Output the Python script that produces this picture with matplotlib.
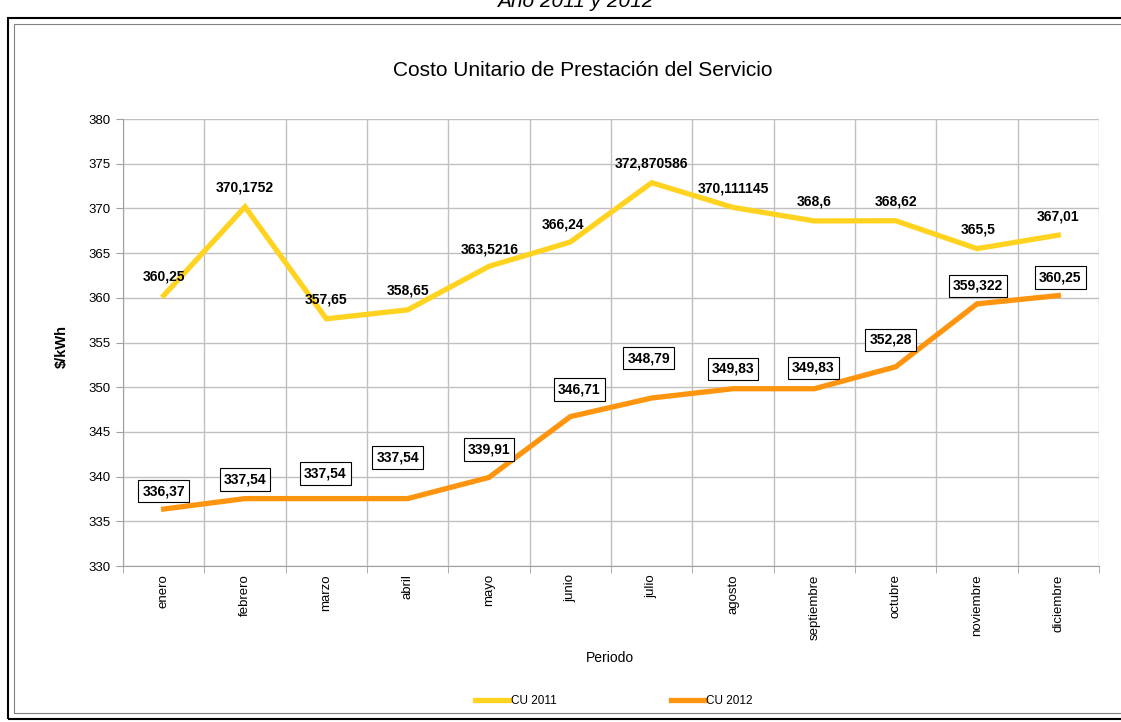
import matplotlib
matplotlib.use("Agg")
from matplotlib import pyplot as plt
from matplotlib.patches import Rectangle
import numpy as np

plt.rcParams['font.family'] = ['Liberation Sans', 'DejaVu Sans']

meses = ['enero', 'febrero', 'marzo', 'abril', 'mayo', 'junio', 'julio',
         'agosto', 'septiembre', 'octubre', 'noviembre', 'diciembre']
cu_2011 = [360.25, 370.1752, 357.65, 358.65, 363.5216, 366.24, 372.870586,
           370.111145, 368.6, 368.62, 365.5, 367.01]
cu_2012 = [336.37, 337.54, 337.54, 337.54, 339.91, 346.71, 348.79,
           349.83, 349.83, 352.28, 359.322, 360.25]
etiq_2011 = ['360,25', '370,1752', '357,65', '358,65', '363,5216', '366,24',
             '372,870586', '370,111145', '368,6', '368,62', '365,5', '367,01']
etiq_2012 = ['336,37', '337,54', '337,54', '337,54', '339,91', '346,71',
             '348,79', '349,83', '349,83', '352,28', '359,322', '360,25']

# desplazamiento de cada etiqueta en pixeles (x, y hacia arriba)
desp_2011 = [(0, 19), (0, 19), (0, 19), (0, 19), (1, 17), (-7, 18),
             (0, 19), (0, 19), (0, 19), (0, 19), (1, 19), (0, 19)]
desp_2012 = [(0, 18), (0, 19), (-1, 25), (-10, 41), (0, 28), (9, 27),
             (-3, 40), (0, 20), (-1, 21), (-5, 27), (1, 18), (2, 18)]

W, H = 1121, 722
fig = plt.figure(figsize=(W / 100, H / 100), dpi=100)

# marcos exteriores
fig.patches.append(Rectangle((8 / W, 3 / H), 1.2, 1 - 21 / H, transform=fig.transFigure,
                             fill=False, ec='black', lw=1.5, zorder=0))
fig.patches.append(Rectangle((14 / W, 9 / H), 1.2, 1 - 33 / H, transform=fig.transFigure,
                             fill=False, ec='#808080', lw=0.8, zorder=0))

fig.text(575 / W, 1 - 7 / H, 'Año 2011 y 2012', ha='center', va='baseline',
         fontsize=15, style='italic')

ax = fig.add_axes([123 / W, 1 - 566 / H, (1099 - 123) / W, (566 - 119) / H])
x = np.arange(len(meses))

ax.plot(x, cu_2011, color='#FFD320', lw=3.8, label='CU 2011', solid_joinstyle='miter', zorder=3)
ax.plot(x, cu_2012, color='#FF950E', lw=3.8, label='CU 2012', solid_joinstyle='miter', zorder=3)

for i in range(len(meses)):
    ax.annotate(etiq_2011[i], (x[i], cu_2011[i]), xytext=desp_2011[i],
                textcoords='offset pixels', ha='center', va='center',
                fontsize=10, fontweight='bold', zorder=5)
    ax.annotate(etiq_2012[i], (x[i], cu_2012[i]), xytext=desp_2012[i],
                textcoords='offset pixels', ha='center', va='center',
                fontsize=10, fontweight='bold', zorder=5,
                bbox=dict(boxstyle='square,pad=0.3', fc='white', ec='black', lw=0.8))

ax.set_xlim(-0.5, len(meses) - 0.5)
ax.set_ylim(330, 380)
ax.set_yticks(np.arange(330, 381, 5))
ax.set_xticks(x)
ax.set_xticklabels(meses, rotation=90, fontsize=9.5)
ax.set_xticks(np.arange(-0.5, len(meses), 1), minor=True)
ax.tick_params(axis='x', which='major', length=0, pad=6)
ax.tick_params(axis='x', which='minor', length=5, color='#a0a0a0')
ax.tick_params(axis='y', labelsize=9.5, length=5, color='#a0a0a0', pad=4)
ax.grid(True, axis='y', color='#c0c0c0', lw=1)
ax.grid(True, axis='x', which='minor', color='#c0c0c0', lw=1)
ax.set_axisbelow(True)
for lado in ['top', 'right']:
    ax.spines[lado].set_visible(False)
for lado in ['left', 'bottom']:
    ax.spines[lado].set_color('#a0a0a0')

fig.text(583 / W, 1 - 70 / H, 'Costo Unitario de Prestación del Servicio',
         ha='center', va='center', fontsize=15)
fig.text(62 / W, 1 - 347 / H, '$/kWh', ha='center', va='center', rotation=90,
         fontsize=10.5, fontweight='bold')
fig.text(610 / W, 1 - 658 / H, 'Periodo', ha='center', va='center', fontsize=10)

fig.legend(loc='center', bbox_to_anchor=(614 / W, 1 - 701 / H), ncol=2, frameon=False,
           fontsize=8.5, handlelength=2.9, handletextpad=0.1, columnspacing=9.7)

fig.savefig('out.png', dpi=100)
